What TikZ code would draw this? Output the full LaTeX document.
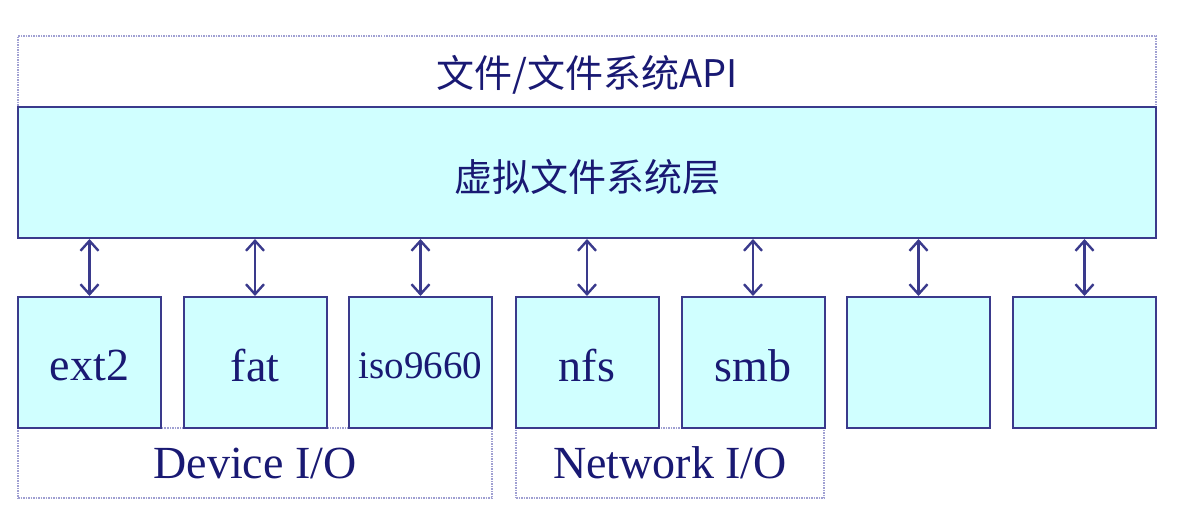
\documentclass[tikz,border=0pt]{standalone}
\usepackage{fontspec}
\setmainfont{Liberation Serif}
\newfontfamily\cjk{Noto Sans CJK SC}
\usetikzlibrary{arrows.meta}
\definecolor{boxfill}{RGB}{208,255,255}
\definecolor{boxline}{RGB}{58,58,140}
\definecolor{txt}{RGB}{25,25,115}
\definecolor{dotline}{RGB}{160,160,210}
\tikzset{
  fsbox/.style={draw=boxline, fill=boxfill, line width=2pt, minimum width=143pt, minimum height=131pt, inner sep=0pt},
  fstext/.style={text=txt, font=\fontsize{46}{50}\selectfont, yshift=-3pt},
  dotbox/.style={draw=dotline, dash pattern=on 1.5pt off 1pt, line width=2pt, inner sep=0pt, text=txt},
  dblarrow/.style={draw=boxline, line width=2.4pt, {Straight Barb[length=10pt,width=18pt,line width=2.4pt]}-{Straight Barb[length=10pt,width=18pt,line width=2.4pt]}},
}
\begin{document}
\begin{tikzpicture}[x=1pt,y=-1pt]
\useasboundingbox (0,0) rectangle (1182,520);
% dotted frames
\node[dotbox, minimum width=1138pt, minimum height=71pt, label={[text=txt, font=\cjk\fontsize{38}{42}\selectfont, yshift=-3pt]center:文件/文件系统API}] (api) at (587,71.5) {};
\node[dotbox, minimum width=474pt, minimum height=70pt, font=\fontsize{46}{50}\selectfont] (dev) at (255,463) {Device I/O};
\node[dotbox, minimum width=308pt, minimum height=70pt, font=\fontsize{46}{50}\selectfont] (net) at (670,463) {Network I/O};
% VFS layer
\node[fsbox, minimum width=1138pt, label={[text=txt, font=\cjk\fontsize{38}{42}\selectfont, yshift=-5pt]center:虚拟文件系统层}] (vfs) at (587,172.5) {};
% file systems
\node[fsbox, label={[fstext]center:ext2}] (b1) at (89.5,362.5) {};
\node[fsbox, label={[fstext]center:fat}] (b2) at (255,362.5) {};
\node[fsbox, label={[fstext, font=\fontsize{39}{42}\selectfont]center:iso9660}] (b3) at (420.5,362.5) {};
\node[fsbox, label={[fstext]center:nfs}] (b4) at (587,362.5) {};
\node[fsbox, label={[fstext]center:smb}] (b5) at (753,362.5) {};
\node[fsbox] (b6) at (918.5,362.5) {};
\node[fsbox] (b7) at (1084.5,362.5) {};
\foreach \i in {1,...,7}{
  \draw[dblarrow] (b\i.north |- vfs.south) -- (b\i.north);
}
\end{tikzpicture}
\end{document}
